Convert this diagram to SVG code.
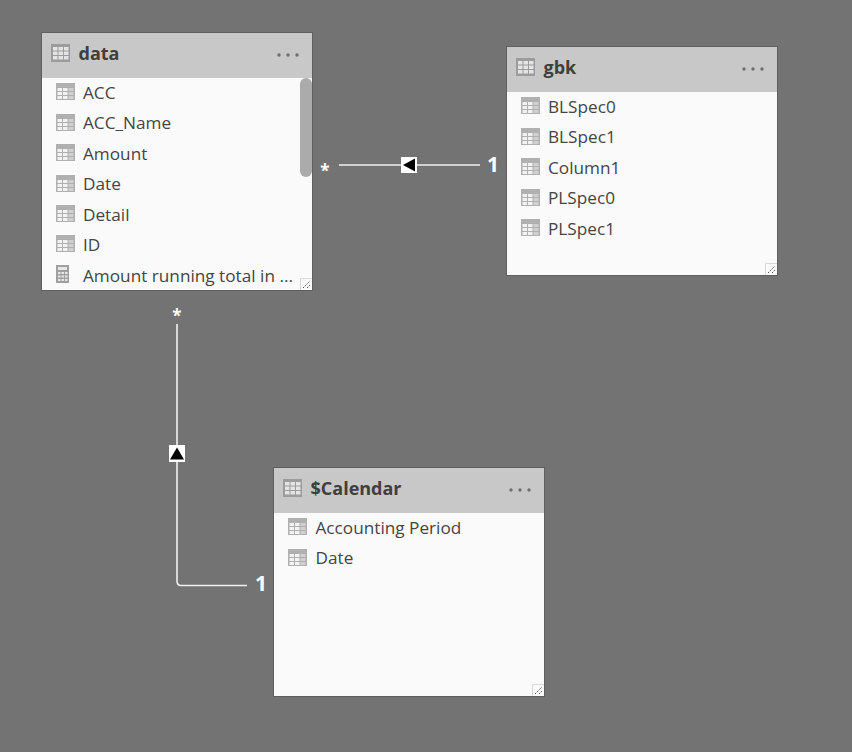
<svg xmlns="http://www.w3.org/2000/svg" width="852" height="752" viewBox="0 0 852 752">
<style>
.card{fill:#fafafa;stroke:#5f5f5f;stroke-width:1}
.head{fill:#c8c8c8}
.title{font:700 18px "Open Sans","Noto Sans",sans-serif;fill:#3f3f3f}
.field{font:400 17.200px "Open Sans","Noto Sans",sans-serif;fill:#454545}
.dot{fill:#6f6f6f}
.conn{fill:none;stroke:#f0f0f0;stroke-width:1.6}
.card1{font:700 21px "Open Sans","Noto Sans",sans-serif;fill:#fff}
.star{font:700 17px "Open Sans","Noto Sans",sans-serif;fill:#fff}
.arrowbox{fill:#fff}
.grip{fill:none;stroke:#d8d8d8;stroke-width:1}
.gripl{stroke:#555;stroke-width:1;stroke-dasharray:1.500 1;fill:none}
</style>
<defs>
<g id="tbl">
<rect x="0" y="0" width="19" height="17" fill="#b0b0b0"/>
<rect x="1.500" y="5" width="4.500" height="3" fill="#f2f2f2"/><rect x="7" y="5" width="4.500" height="3" fill="#f2f2f2"/><rect x="12.500" y="5" width="5" height="3" fill="#d0d0d0"/>
<rect x="1.500" y="9" width="4.500" height="3" fill="#f2f2f2"/><rect x="7" y="9" width="4.500" height="3" fill="#f2f2f2"/><rect x="12.500" y="9" width="5" height="3" fill="#d0d0d0"/>
<rect x="1.500" y="13" width="4.500" height="3" fill="#f2f2f2"/><rect x="7" y="13" width="4.500" height="3" fill="#f2f2f2"/><rect x="12.500" y="13" width="5" height="3" fill="#d0d0d0"/>
</g>
<g id="htbl">
<rect x="0" y="0" width="19" height="18" fill="#9c9c9c"/>
<rect x="2" y="3" width="4.500" height="3.500" fill="#e4e4e4"/><rect x="7.500" y="3" width="4.500" height="3.500" fill="#e4e4e4"/><rect x="13" y="3" width="4.500" height="3.500" fill="#e4e4e4"/>
<rect x="2" y="7.500" width="4.500" height="3.500" fill="#e4e4e4"/><rect x="7.500" y="7.500" width="4.500" height="3.500" fill="#e4e4e4"/><rect x="13" y="7.500" width="4.500" height="3.500" fill="#e4e4e4"/>
<rect x="2" y="12" width="4.500" height="3.500" fill="#e4e4e4"/><rect x="7.500" y="12" width="4.500" height="3.500" fill="#e4e4e4"/><rect x="13" y="12" width="4.500" height="3.500" fill="#e4e4e4"/>
</g>
<g id="calc">
<rect x="0" y="0" width="13" height="18" fill="#a0a0a0"/>
<rect x="2" y="2" width="9" height="3" fill="#e6e6e6"/>
<rect x="2" y="7" width="2.500" height="2" fill="#e6e6e6"/><rect x="5.500" y="7" width="2.500" height="2" fill="#e6e6e6"/><rect x="9" y="7" width="2.500" height="2" fill="#e6e6e6"/>
<rect x="2" y="10.500" width="2.500" height="2" fill="#e6e6e6"/><rect x="5.500" y="10.500" width="2.500" height="2" fill="#e6e6e6"/><rect x="9" y="10.500" width="2.500" height="2" fill="#e6e6e6"/>
<rect x="2" y="14" width="2.500" height="2" fill="#e6e6e6"/><rect x="5.500" y="14" width="2.500" height="2" fill="#e6e6e6"/><rect x="9" y="14" width="2.500" height="2" fill="#e6e6e6"/>
</g>
<g id="dots">
<circle cx="0" cy="0" r="1.700" class="dot"/><circle cx="9" cy="0" r="1.700" class="dot"/><circle cx="18" cy="0" r="1.700" class="dot"/>
</g>
<g id="grip">
<path class="grip" d="M0.500 12V0.500H12"/>
<path class="gripl" d="M3 10L10 3M7 10L10 7"/>
</g>
</defs>
<rect width="852" height="752" fill="#737373"/>
<g id="connectors">
<path class="conn" d="M339 165H480"/>
<rect class="arrowbox" x="401" y="157" width="16" height="16"/>
<path d="M403 165L415 158.500V171.500Z" fill="#000"/>
<path class="conn" d="M177 324V581Q177 585.500 181 585.500H247"/>
<rect class="arrowbox" x="169" y="445" width="16" height="17"/>
<path d="M177 447.500L184 459.500H170Z" fill="#000"/>
<text class="star" x="325" y="177" text-anchor="middle">*</text>
<text class="star" x="177" y="322" text-anchor="middle">*</text>
<text class="card1" x="493" y="172" text-anchor="middle">1</text>
<text class="card1" x="261" y="591" text-anchor="middle">1</text>
</g>
<g id="node-data">
<rect class="card" x="41.500" y="32.500" width="271" height="258"/>
<rect class="head" x="42" y="33" width="270" height="45"/>
<use href="#htbl" x="51" y="44"/>
<text class="title" x="78.500" y="60">data</text>
<use href="#dots" x="279" y="55"/>
<rect x="300" y="78" width="12" height="99" rx="6" fill="#ababab"/>
<use href="#tbl" x="56" y="83"/><text class="field" x="83" y="99">ACC</text>
<use href="#tbl" x="56" y="114"/><text class="field" x="83" y="129">ACC_Name</text>
<use href="#tbl" x="56" y="144"/><text class="field" x="83" y="160">Amount</text>
<use href="#tbl" x="56" y="175"/><text class="field" x="83" y="190">Date</text>
<use href="#tbl" x="56" y="205"/><text class="field" x="83" y="221">Detail</text>
<use href="#tbl" x="56" y="235"/><text class="field" x="83" y="251">ID</text>
<use href="#calc" x="56" y="265"/><text class="field" x="83" y="282">Amount running total in ...</text>
<use href="#grip" x="300" y="278"/>
</g>
<g id="node-gbk">
<rect class="card" x="506.500" y="46.500" width="271" height="229"/>
<rect class="head" x="507" y="47" width="270" height="45"/>
<use href="#htbl" x="516" y="58"/>
<text class="title" x="543.500" y="74">gbk</text>
<use href="#dots" x="744" y="69"/>
<use href="#tbl" x="521" y="97"/><text class="field" x="548" y="113">BLSpec0</text>
<use href="#tbl" x="521" y="128"/><text class="field" x="548" y="143">BLSpec1</text>
<use href="#tbl" x="521" y="158"/><text class="field" x="548" y="174">Column1</text>
<use href="#tbl" x="521" y="189"/><text class="field" x="548" y="204">PLSpec0</text>
<use href="#tbl" x="521" y="219"/><text class="field" x="548" y="235">PLSpec1</text>
<use href="#grip" x="765" y="263"/>
</g>
<g id="node-calendar">
<rect class="card" x="273.500" y="467.500" width="271" height="229"/>
<rect class="head" x="274" y="468" width="270" height="45"/>
<use href="#htbl" x="283" y="479"/>
<text class="title" x="310.500" y="495">$Calendar</text>
<use href="#dots" x="511" y="490"/>
<use href="#tbl" x="288" y="518"/><text class="field" x="315.500" y="534">Accounting Period</text>
<use href="#tbl" x="288" y="549"/><text class="field" x="315.500" y="564">Date</text>
<use href="#grip" x="532" y="684"/>
</g>
</svg>
